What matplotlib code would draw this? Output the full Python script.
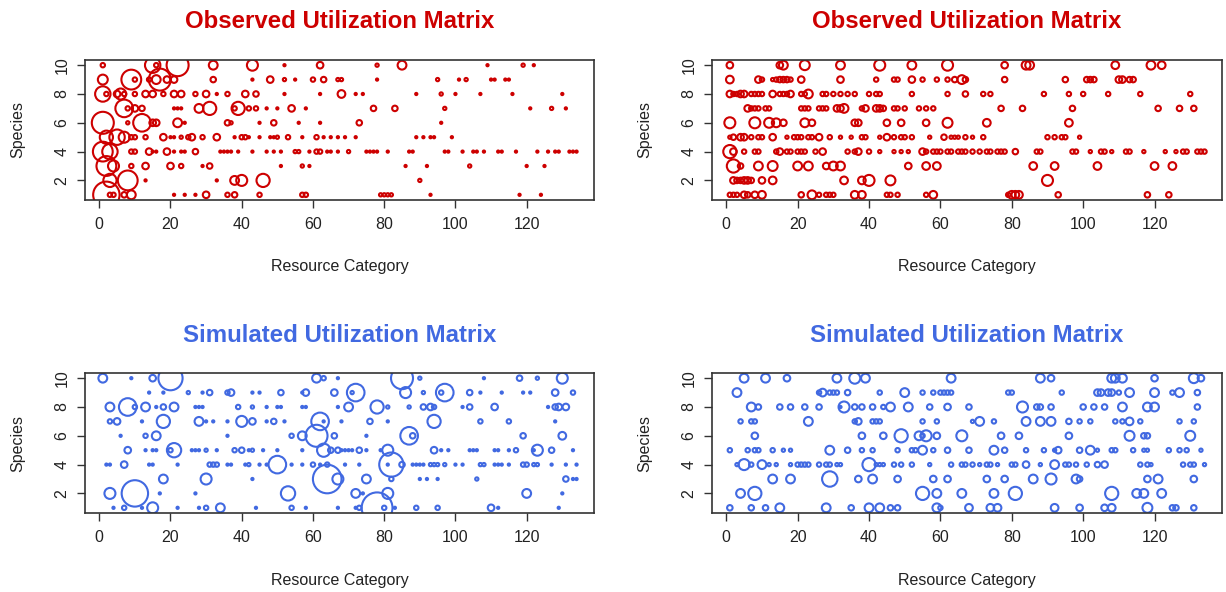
import matplotlib
matplotlib.use("Agg")
import matplotlib.pyplot as plt

plt.rcParams['font.family'] = ['Liberation Sans', 'DejaVu Sans']

# Utilization per species: {species: [(resource category, utilization), ...]}
observed_a = {
    10: [(1, 2), (15, 7), (16, 2), (22, 10), (32, 4), (43, 5), (52, 1), (62, 3), (78, 1.5), (85, 4),
         (109, 1), (119, 1.5), (122, 1)],
    9: [(1, 4.5), (9, 9), (10, 2), (14, 2), (16, 4), (17, 10), (19, 3), (21, 3), (32, 2.5), (43, 1),
        (48, 3), (52, 1.5), (55, 1), (60, 2), (63, 2.5), (67, 1.5), (68, 1.5), (78, 1), (95, 1.5),
        (101, 1), (103, 1.5), (110, 1), (111, 1), (114, 1), (115, 1)],
    8: [(1, 7), (2, 2), (5, 3), (6, 5), (7, 2), (10, 2), (13, 3), (15, 3), (18, 2), (21, 3), (23, 3),
        (27, 2), (30, 3), (33, 1), (36, 2), (41, 3), (44, 2.5), (52, 1), (62, 1), (68, 3.5), (72, 1),
        (74, 1), (89, 1), (96, 1.5), (100, 1), (107, 1), (116, 1), (130, 1)],
    7: [(7, 8), (8, 2), (10, 3), (12, 2.5), (21, 1), (22, 1), (23, 1), (28, 4), (31, 6), (38, 2),
        (39, 6), (42, 2), (44, 2), (47, 1), (50, 1), (54, 3), (58, 1), (77, 2.5), (83, 2.5), (97, 1.5),
        (121, 1), (127, 1.5), (131, 1)],
    6: [(1, 10), (8, 1.5), (12, 8), (15, 3), (16, 3), (22, 4), (24, 1), (36, 2.5), (37, 1.5), (45, 1),
        (49, 2.5), (56, 1), (62, 1), (73, 2.5), (96, 1)],
    5: [(2, 6), (5, 7), (7, 5), (9, 2), (10, 2), (13, 2), (18, 3), (20, 1), (21, 1), (23, 1.5), (25, 2),
        (26, 3), (29, 2), (33, 3), (38, 1), (40, 2), (41, 2), (42, 1), (45, 1), (48, 1), (49, 1),
        (50, 1.5), (53, 2), (57, 1), (61, 2), (63, 1), (65, 1), (67, 1), (69, 1), (72, 1), (89, 1),
        (91, 1), (93, 1), (94, 1), (99, 1)],
    4: [(1, 9), (3, 7), (9, 2), (10, 2), (14, 3), (15, 1), (16, 1), (19, 3), (21, 1), (23, 1), (24, 1),
        (27, 2.5), (34, 1), (35, 1), (36, 1), (37, 1), (39, 1), (43, 1), (47, 1), (49, 1), (51, 1),
        (55, 1.5), (56, 1.5), (59, 1), (61, 2), (62, 2), (64, 1), (65, 1), (67, 1), (70, 1.5), (75, 1),
        (76, 1), (77, 1), (78, 1), (81, 1), (87, 1), (88, 1), (97, 1), (98, 1), (102, 1), (105, 1),
        (106, 1), (108, 1), (112, 1), (113, 1), (117, 1), (123, 1), (126, 1), (128, 1), (129, 1),
        (132, 1), (133, 1), (134, 1)],
    3: [(2, 9), (4, 5), (9, 2), (13, 3), (20, 3), (23, 2), (29, 1), (31, 2.5), (51, 1), (57, 1.5),
        (59, 1), (86, 1), (92, 1), (104, 1.5), (120, 1), (125, 1)],
    2: [(3, 6), (8, 9), (13, 1), (33, 1), (38, 4), (40, 5), (46, 6), (90, 1.5)],
    1: [(2, 12), (3, 2), (4, 2), (7, 2.5), (9, 4), (21, 1), (24, 1), (27, 1), (30, 3), (36, 2),
        (38, 2.5), (45, 2), (57, 2), (58, 2), (79, 1.5), (80, 1.5), (81, 1.5), (82, 1.5), (93, 1),
        (118, 1), (124, 1)],
}

observed_b = {
    10: [(1, 3), (15, 3), (16, 4), (22, 4.5), (32, 4), (43, 5), (52, 4), (62, 5), (78, 3), (84, 4),
         (85, 4), (109, 3.5), (119, 4), (122, 3.5)],
    9: [(1, 3.5), (9, 3), (10, 2), (13, 1.5), (14, 2), (15, 2.5), (16, 2.5), (17, 2.5), (18, 2), (21, 3),
        (32, 3), (42, 2), (47, 2), (48, 2), (52, 3), (55, 2), (59, 2), (62, 2), (64, 2.5), (66, 4),
        (67, 2.5), (78, 2.5), (95, 2.5), (101, 2.5), (102, 2.5), (103, 2.5), (110, 3), (111, 3),
        (113, 2.5), (114, 2.5)],
    8: [(1, 3), (2, 2), (3, 2), (4, 3), (5, 3), (7, 2), (8, 2), (9, 2), (10, 2), (13, 3), (15, 2),
        (16, 2), (17, 2), (18, 3), (21, 2), (22, 2), (23, 4), (27, 2), (28, 2), (30, 2), (32, 2),
        (34, 2), (36, 2), (40, 2), (42, 2), (43, 2), (52, 2), (62, 2), (67, 2.5), (72, 2), (74, 2),
        (89, 2), (96, 2), (100, 2), (107, 2), (116, 2), (130, 2)],
    7: [(6, 3), (7, 2), (8, 2), (9, 2), (11, 2), (12, 2), (21, 2), (22, 2), (23, 2), (26, 2), (27, 2),
        (28, 2), (31, 3), (32, 3), (33, 4), (38, 2), (39, 3), (42, 3), (43, 3), (44, 2.5), (47, 2),
        (48, 2), (50, 2), (54, 2), (56, 2), (58, 2), (77, 2.5), (83, 2.5), (97, 2.5), (121, 2.5),
        (127, 2.5), (131, 2.5)],
    6: [(1, 5), (8, 5), (12, 4.5), (14, 4), (16, 3), (22, 4), (24, 3), (36, 3), (37, 3), (45, 3),
        (49, 3), (56, 3), (62, 4.5), (73, 3.5), (96, 3.5)],
    5: [(1, 1.5), (2, 2.5), (4, 3), (5, 3), (7, 2), (9, 2), (10, 2), (13, 3), (17, 1.5), (19, 2),
        (20, 2), (21, 2), (23, 2), (24, 2), (26, 3), (29, 2), (32, 1.5), (35, 1.5), (38, 2), (39, 2),
        (43, 1.5), (45, 3), (47, 2), (49, 2), (50, 2), (52, 2), (57, 1.5), (61, 2.5), (63, 1.5),
        (64, 1.5), (65, 1.5), (67, 2), (69, 1.5), (72, 2), (90, 2), (92, 2), (94, 2), (95, 2), (99, 1.5)],
    4: [(1, 6), (2, 3), (5, 2), (8, 2), (9, 2), (14, 2), (15, 3), (17, 2), (18, 2), (20, 2), (21, 2),
        (22, 2), (25, 2), (27, 3), (34, 2), (36, 2), (37, 3), (40, 2), (43, 1.5), (47, 1.5), (49, 1.5),
        (51, 1.5), (55, 3), (56, 2), (58, 2), (59, 2), (60, 2), (62, 2), (63, 2), (65, 2), (66, 2),
        (67, 2), (69, 2), (71, 2), (73, 2), (74, 2), (76, 2), (77, 2), (78, 2), (81, 2.5), (87, 2),
        (88, 2), (97, 2), (98, 2), (102, 1.5), (105, 2), (106, 2), (108, 1.5), (112, 2), (113, 2),
        (117, 1.5), (123, 1.5), (126, 1.5), (128, 2), (129, 2), (132, 2), (133, 2), (134, 2)],
    3: [(2, 6), (4, 2.5), (9, 4), (13, 4.5), (20, 4), (23, 4), (28, 3), (30, 4), (32, 4), (51, 3),
        (56, 3.5), (59, 3.5), (86, 3.5), (92, 3.5), (104, 3.5), (120, 3.5), (125, 3.5)],
    2: [(2, 3), (3, 2.5), (4, 2.5), (5, 3), (6, 3), (7, 2.5), (10, 3), (13, 3.5), (33, 3.5), (38, 3.5),
        (40, 5), (46, 4.5), (90, 5)],
    1: [(1, 2), (2, 2), (3, 2), (5, 3), (6, 2.5), (8, 3), (10, 3.5), (21, 2.5), (24, 4), (26, 2),
        (28, 2), (29, 2), (30, 2), (36, 3.5), (38, 3.5), (45, 2), (46, 2), (48, 2), (56, 2), (58, 3.5),
        (79, 2), (80, 3.5), (81, 3.5), (82, 3.5), (93, 2.5), (118, 2.5), (124, 2.5)],
}

simulated_a = {
    10: [(1, 4), (9, 1), (15, 3), (20, 11), (61, 4), (63, 2), (67, 1), (85, 10), (90, 1.5), (108, 1),
         (118, 2.5), (123, 1.5), (130, 5)],
    9: [(14, 1), (18, 1), (25, 1.5), (29, 1), (31, 2.5), (36, 2), (37, 3), (43, 1), (45, 1), (51, 2.5),
        (57, 1), (58, 3), (66, 3), (71, 1.5), (72, 8), (86, 5), (91, 1.5), (96, 2), (97, 8), (104, 2.5),
        (107, 1), (113, 1), (119, 1), (121, 1), (128, 3), (133, 2)],
    8: [(3, 4), (8, 8), (10, 2), (13, 4), (16, 1), (18, 2.5), (21, 4), (27, 1), (28, 1), (29, 1),
        (39, 2), (43, 1.5), (47, 1), (50, 1), (51, 1), (57, 1), (58, 1), (67, 1), (70, 4), (78, 6),
        (81, 1.5), (87, 1.5), (91, 2.5), (93, 3), (94, 2), (102, 1), (104, 2.5), (111, 3), (126, 1),
        (128, 2.5), (129, 3), (131, 3)],
    7: [(3, 2), (5, 3), (12, 1), (18, 6), (28, 4), (30, 1), (32, 1), (36, 1), (40, 5), (43, 3), (47, 1),
        (49, 2.5), (52, 1), (62, 8), (63, 1), (68, 1), (76, 2.5), (81, 1), (94, 6), (107, 2), (115, 2),
        (128, 1)],
    6: [(6, 1), (13, 2), (16, 4), (36, 1), (54, 2), (57, 4), (61, 10), (66, 2.5), (75, 1), (87, 8),
        (88, 2.5), (119, 2.5), (130, 3.5)],
    5: [(8, 3), (13, 1), (15, 1), (16, 1), (20, 2), (21, 6.5), (26, 1), (27, 1), (28, 1), (30, 1.5),
        (33, 1), (38, 2), (40, 2.5), (42, 1), (43, 1.5), (46, 1), (50, 1), (57, 1), (63, 6), (65, 2.5),
        (67, 2.5), (68, 1), (69, 1), (70, 1), (71, 1), (73, 2.5), (75, 1), (79, 1), (81, 5), (94, 3),
        (96, 1), (98, 1), (104, 1), (105, 1), (106, 1), (111, 1), (112, 1), (115, 1), (117, 2),
        (122, 1), (123, 5), (127, 2.5), (133, 1)],
    4: [(2, 1), (3, 1), (7, 3), (14, 1), (15, 1), (22, 1), (31, 2), (32, 2), (33, 2), (36, 1), (37, 1),
        (41, 1), (42, 1.5), (45, 1), (47, 1), (50, 8), (54, 1), (57, 1), (60, 2), (62, 1), (64, 2),
        (69, 1), (73, 1), (81, 1), (82, 11), (85, 2.5), (88, 1), (89, 1), (90, 1), (91, 1), (93, 1.5),
        (94, 1.5), (95, 1.5), (97, 1.5), (100, 1), (102, 1), (107, 1.5), (108, 1.5), (111, 1),
        (112, 1), (113, 1), (115, 1), (119, 2), (120, 2), (122, 1.5), (123, 1.5), (127, 1), (131, 1),
        (134, 1)],
    3: [(18, 4), (30, 5), (43, 1), (64, 13), (67, 5), (75, 4), (82, 2), (90, 1), (92, 1), (95, 1),
        (106, 1.5), (131, 2.5), (133, 1), (134, 1)],
    2: [(3, 5), (10, 12), (17, 1), (27, 1), (53, 6.5), (72, 4), (74, 1), (81, 5), (120, 4), (130, 1)],
    1: [(4, 1), (7, 2), (12, 1), (15, 5), (22, 1), (28, 1), (30, 2), (34, 4), (44, 1), (54, 2), (58, 1),
        (67, 1), (72, 1), (73, 2), (78, 14), (80, 2), (83, 1), (89, 2), (95, 2), (110, 3), (112, 1),
        (129, 1)],
}

simulated_b = {
    10: [(5, 4), (11, 4), (17, 3), (31, 4), (36, 5), (39, 4), (63, 4), (88, 4), (91, 3), (108, 4),
         (109, 4), (111, 4), (120, 3), (131, 4.5), (133, 3)],
    9: [(3, 4), (26, 2), (27, 3.5), (29, 2), (30, 2), (31, 2), (34, 2.5), (43, 2), (50, 4), (55, 2),
        (58, 2), (60, 2), (61, 2), (62, 2), (63, 2), (79, 2), (80, 2), (94, 2), (104, 3), (105, 3),
        (107, 3), (108, 3), (110, 2), (113, 4), (120, 4), (125, 2), (127, 4), (132, 2.5)],
    8: [(7, 4), (9, 2.5), (15, 2.5), (18, 2.5), (22, 2.5), (26, 2.5), (32, 1), (33, 5), (36, 2.5),
        (38, 2.5), (41, 2.5), (44, 2), (46, 4), (51, 4), (57, 2.5), (62, 3), (68, 2.5), (83, 5),
        (87, 2.5), (88, 2.5), (91, 2.5), (100, 2.5), (103, 2.5), (106, 2.5), (111, 4), (118, 4),
        (120, 4), (132, 2.5)],
    7: [(4, 2), (7, 2), (8, 2), (23, 4), (36, 2), (37, 3), (41, 2), (42, 2), (43, 2), (55, 2), (59, 2),
        (69, 1.5), (71, 4), (75, 2), (84, 4), (88, 4), (91, 4), (96, 2.5), (99, 2), (102, 2), (109, 2),
        (111, 2), (113, 3.5), (116, 2), (127, 2), (131, 2)],
    6: [(8, 3), (38, 3), (44, 3), (49, 6), (54, 4), (55, 2), (56, 5), (59, 3), (66, 5), (77, 3), (82, 3),
        (96, 3), (113, 4.5), (117, 2.5), (118, 2.5), (130, 4.5)],
    5: [(1, 2), (6, 2), (8, 2), (9, 2), (13, 2), (16, 1.5), (18, 1.5), (29, 4), (34, 2.5), (38, 2),
        (41, 2), (48, 2), (52, 2), (53, 2), (55, 4), (58, 2), (62, 2.5), (68, 2.5), (75, 4), (78, 2.5),
        (84, 2), (89, 2), (92, 1.5), (93, 3), (99, 2.5), (102, 4), (104, 1.5), (108, 2), (109, 2),
        (114, 2), (117, 1.5), (118, 1.5), (124, 2), (127, 2), (129, 2), (133, 1.5)],
    4: [(3, 1.5), (5, 5), (7, 2), (10, 4), (12, 1.5), (14, 1.5), (18, 1.5), (20, 2), (21, 2), (22, 2),
        (23, 2), (26, 2), (28, 2), (29, 2), (31, 1.5), (32, 1.5), (40, 6), (42, 1.5), (43, 1.5),
        (44, 1.5), (47, 2), (49, 2), (52, 2), (57, 1.5), (63, 2), (66, 2), (67, 2), (69, 2), (71, 1.5),
        (73, 2), (74, 2), (76, 1.5), (80, 2), (81, 2), (84, 3), (88, 1.5), (92, 4), (95, 2), (96, 2),
        (98, 2), (101, 2), (104, 2.5), (106, 3), (116, 2), (118, 2), (119, 1.5), (128, 2), (130, 2),
        (131, 2), (134, 1.5)],
    3: [(13, 4), (18, 4), (29, 7), (37, 3), (41, 4), (48, 3), (58, 3), (62, 3), (73, 3), (78, 3),
        (86, 4), (91, 5), (98, 4), (99, 2.5), (118, 3), (121, 4), (131, 3)],
    2: [(4, 4), (8, 6), (55, 6), (59, 4), (66, 4), (75, 4), (81, 6), (108, 6), (115, 4), (117, 4),
        (122, 4)],
    1: [(1, 2.5), (7, 2.5), (11, 2.5), (15, 4), (28, 4), (35, 2.5), (40, 4), (43, 4), (46, 2.5),
        (48, 2.5), (59, 4), (60, 2), (68, 3.5), (74, 3.5), (76, 3.5), (92, 3.5), (99, 3), (106, 3),
        (108, 3.5), (118, 4.5), (125, 2.5), (126, 2.5), (131, 2.5)],
}

RED = '#CD0000'
BLUE = '#4169E1'
W, H = 1226, 592
DPI = 100
RADIUS_SCALE = 1.1  # pixels of circle radius per unit of utilization

fig = plt.figure(figsize=(W / DPI, H / DPI), dpi=DPI)
fig.patch.set_facecolor('white')


def axes_px(left, top, right, bottom):
    return fig.add_axes([left / W, 1 - bottom / H, (right - left) / W, (bottom - top) / H])


def draw_matrix(box, data, color, title):
    left, top, right, bottom = box
    ax = axes_px(left, top, right, bottom)
    xs, ys, vals = [], [], []
    for sp, items in data.items():
        for cat, val in items:
            xs.append(cat)
            ys.append(sp)
            vals.append(val)
    # circle radius grows with utilization (radius in pixels -> points)
    sizes = [(2 * v * RADIUS_SCALE * 72 / DPI) ** 2 for v in vals]
    ax.scatter(xs, ys, s=sizes, facecolors='none', edgecolors=color, linewidths=1.5)
    ax.set_xlim(-4.0, 138.9)
    ax.set_ylim(0.64, 10.36)
    ax.set_xticks(range(0, 121, 20))
    ax.set_yticks(range(2, 11, 2))
    ax.tick_params(direction='out', length=6, width=1, colors='#333333',
                   labelcolor='#222222', labelsize=11.5)
    ax.tick_params(axis='x', pad=6)
    ax.tick_params(axis='y', pad=5)
    for lab in ax.get_yticklabels():
        lab.set_rotation(90)
        lab.set_va('center')
    for sp in ax.spines.values():
        sp.set_color('#333333')
        sp.set_linewidth(1.2)
    cx = (left + right) / 2
    cy = (top + bottom) / 2
    fig.text(cx / W, 1 - (top - 38) / H, title, ha='center', va='center',
             fontsize=17.3, fontweight='bold', color=color)
    fig.text(cx / W, 1 - (bottom + 67) / H, 'Resource Category', ha='center', va='center',
             fontsize=11.5, color='#222222')
    fig.text((left - 67) / W, 1 - cy / H, 'Species', ha='center', va='center',
             rotation=90, fontsize=11.5, color='#222222')
    return ax


draw_matrix((85, 60, 594, 200), observed_a, RED, 'Observed Utilization Matrix')
draw_matrix((712, 60, 1222, 200), observed_b, RED, 'Observed Utilization Matrix')
draw_matrix((85, 373, 594, 513), simulated_a, BLUE, 'Simulated Utilization Matrix')
draw_matrix((712, 373, 1222, 513), simulated_b, BLUE, 'Simulated Utilization Matrix')

fig.savefig('out.png', dpi=DPI, facecolor='white')
